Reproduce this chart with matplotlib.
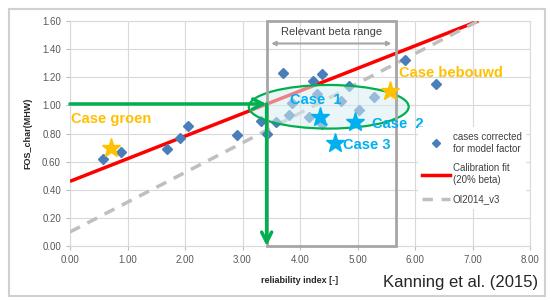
import matplotlib
matplotlib.use("Agg")
import matplotlib.pyplot as plt
from matplotlib.patches import Ellipse, Rectangle, FancyArrowPatch
from matplotlib.lines import Line2D
import numpy as np

plt.rcParams['font.family'] = ['Liberation Sans', 'DejaVu Sans']

# ---- data ----
beta_cases = [0.58, 0.88, 1.69, 1.91, 2.05, 2.90, 3.42, 3.33, 3.58, 3.71, 3.80, 3.86,
              4.16, 4.23, 4.39, 4.29, 4.38, 4.72, 4.86, 5.02, 5.28, 5.83, 6.37]
fos_cases = [0.62, 0.67, 0.69, 0.77, 0.85, 0.79, 0.80, 0.89, 0.88, 1.23, 0.93, 1.02,
             0.92, 1.17, 1.22, 1.08, 0.87, 1.03, 1.14, 0.97, 1.06, 1.32, 1.15]

fit_beta = [0.0, 7.1]
fit_fos = [0.46, 1.60]
oi_beta = [0.0, 7.1]
oi_fos = [0.10, 1.60]

orange_names = ["Case groen", "Case bebouwd"]
orange_beta = [0.71, 5.57]
orange_fos = [0.70, 1.10]

blue_names = ["Case  1", "Case  2", "Case 3"]
blue_beta = [4.34, 4.96, 4.61]
blue_fos = [0.92, 0.88, 0.73]

xticks = [0, 1, 2, 3, 4, 5, 6, 7, 8]
yticks = [0.0, 0.2, 0.4, 0.6, 0.8, 1.0, 1.2, 1.4, 1.6]

target_fos = 1.01
target_beta = 3.42
range_lo, range_hi = 3.42, 5.67

# ---- figure ----
fig = plt.figure(figsize=(5.52, 3.0), dpi=100)
ax = fig.add_axes([70/552, 54/300, 460/552, 225/300])

ORANGE = '#FFC000'
BLUE = '#00B0F0'
GREEN = '#00B050'
GRAY = '#A6A6A6'

ax.set_xlim(0, 8)
ax.set_ylim(0, 1.6)
ax.set_xticks(xticks)
ax.set_yticks(yticks)
ax.set_xticklabels([f"{v:.2f}" for v in xticks])
ax.set_yticklabels([f"{v:.2f}" for v in yticks])
ax.tick_params(labelsize=7, colors='#595959', length=3, width=0.8)
ax.tick_params(axis='both', color='#BFBFBF')
ax.grid(True, color='#D9D9D9', lw=0.8)
ax.set_axisbelow(True)
for s in ax.spines.values():
    s.set_color('#D9D9D9')
    s.set_linewidth(0.8)

ax.set_xlabel("reliability index [-]", fontsize=6.5, fontweight='bold', color='#262626')
ax.xaxis.set_label_coords(0.50, -0.135)
ax.set_ylabel("FOS_char(MHW)", fontsize=6.5, fontweight='bold', color='#262626')
ax.yaxis.set_label_coords(-0.082, 0.5)

# lines
ax.plot(fit_beta, fit_fos, color='#FF0000', lw=2.5, zorder=3, solid_capstyle='butt')
ax.plot(oi_beta, oi_fos, color='#BFBFBF', lw=2.5, ls=(0, (3.2, 2.4)), zorder=3)

# points
ax.plot(beta_cases, fos_cases, ls='none', marker='D', ms=5, color='#4A7EBB', zorder=4)

# ellipse (semi-transparent fill over the points)
ax.add_patch(Ellipse((4.50, 0.99), 2.78, 0.31, facecolor='#DAEEF3', alpha=0.55,
                     edgecolor='none', zorder=5))
ax.add_patch(Ellipse((4.50, 0.99), 2.78, 0.31, facecolor='none', edgecolor=GREEN, lw=1.6, zorder=6))

# relevant beta range box
ax.add_patch(Rectangle((range_lo, 0), range_hi - range_lo, 1.6, fill=False, edgecolor=GRAY,
                       lw=2, zorder=7, clip_on=False))
ax.text((range_lo + range_hi) / 2, 1.525, "Relevant beta range", ha='center', va='center',
        fontsize=8, color='#404040', zorder=8)
ax.add_patch(FancyArrowPatch((range_lo + 0.03, 1.44), (range_hi - 0.03, 1.44), arrowstyle='<|-|>',
                             mutation_scale=6, color=GRAY, lw=1.5, zorder=8))

# green arrows
ax.add_patch(FancyArrowPatch((0, target_fos), (target_beta, target_fos), arrowstyle='->',
                             mutation_scale=18, color=GREEN, lw=2.5, zorder=7,
                             shrinkA=0, shrinkB=0, clip_on=False))
ax.add_patch(FancyArrowPatch((target_beta, target_fos), (target_beta, 0.0), arrowstyle='->',
                             mutation_scale=18, color=GREEN, lw=2.5, zorder=7,
                             shrinkA=0, shrinkB=0, clip_on=False))

# stars
ax.plot(orange_beta, orange_fos, ls='none', marker='*', ms=14, color=ORANGE, zorder=9)
ax.plot(blue_beta, blue_fos, ls='none', marker='*', ms=14, color=BLUE, zorder=9)

ax.text(0.02, 0.90, orange_names[0], color=ORANGE, fontsize=10.5, fontweight='bold', va='center', zorder=9)
ax.text(5.72, 1.23, orange_names[1], color=ORANGE, fontsize=10.5, fontweight='bold', va='center', zorder=9)
ax.text(3.83, 1.04, blue_names[0], color=BLUE, fontsize=10.5, fontweight='bold', va='center', zorder=9)
ax.text(5.26, 0.87, blue_names[1], color=BLUE, fontsize=10.5, fontweight='bold', va='center', zorder=9)
ax.text(4.74, 0.72, blue_names[2], color=BLUE, fontsize=10.5, fontweight='bold', va='center', zorder=9)

# legend
handles = [Line2D([], [], ls='none', marker='D', ms=4, color='#4A7EBB'),
           Line2D([], [], color='#FF0000', lw=2.5),
           Line2D([], [], color='#BFBFBF', lw=2.5, ls=(0, (3, 2.5)))]
labels = ["cases corrected\nfor model factor", "Calibration fit\n(20% beta)", "OI2014_v3"]
leg = ax.legend(handles, labels, loc='upper left', bbox_to_anchor=(0.745, 0.55), fontsize=7,
                frameon=True, facecolor='white', edgecolor='none', framealpha=1, fancybox=False,
                handlelength=2.8, labelspacing=1.0, borderpad=0.5, handletextpad=0.3)
for t in leg.get_texts():
    t.set_color('#404040')
leg.set_zorder(10)

# citation
fig.text(538/552, 1 - 282/300, "Kanning et al. (2015)", ha='right', va='center', fontsize=12, color='#262626')

# outer frame
fig.patches.append(Rectangle((9/552, 4/300), 536/552, 287/300, transform=fig.transFigure,
                             fill=False, edgecolor='#D0D0D0', lw=1.5))

fig.savefig("out.png", dpi=100)
